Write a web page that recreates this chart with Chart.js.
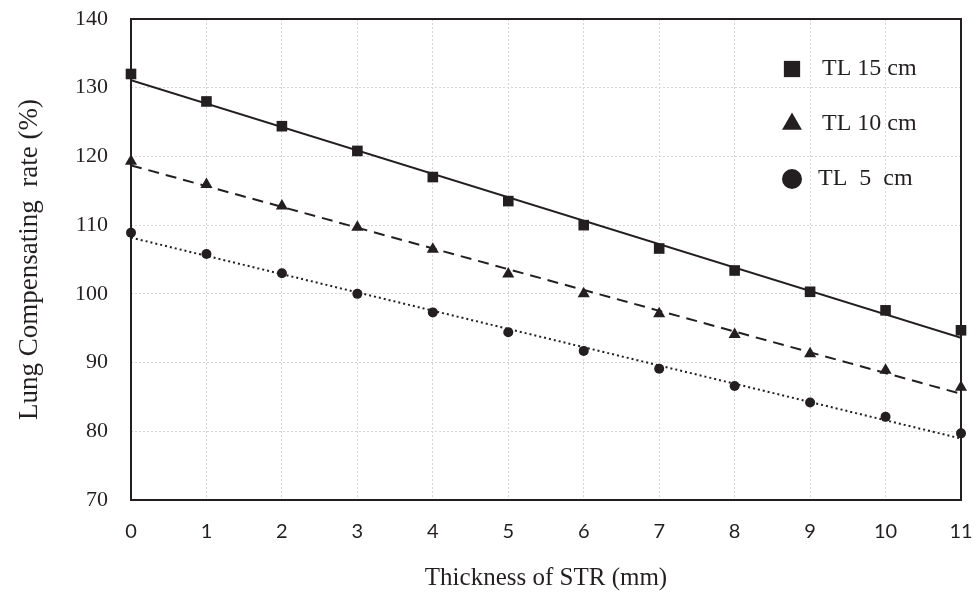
<!DOCTYPE html>
<html>
<head>
<meta charset="utf-8">
<script src="https://cdn.jsdelivr.net/npm/chart.js@4/dist/chart.umd.min.js"></script>
<style>
  html, body { margin: 0; padding: 0; background: #fff; }
</style>
</head>
<body>
<canvas id="chart" width="976" height="594"></canvas>
<script>
// data
const thickness = [0, 1, 2, 3, 4, 5, 6, 7, 8, 9, 10, 11];
const seriesNames = ['TL 15 cm', 'TL 10 cm', 'TL  5  cm'];
const tl15 = [132.0, 128.0, 124.4, 120.8, 117.0, 113.5, 110.0, 106.6, 103.4, 100.3, 97.6, 94.7];
const tl10 = [119.3, 115.9, 112.8, 109.7, 106.5, 102.9, 100.0, 97.1, 94.1, 91.3, 88.9, 86.4];
const tl5 = [108.9, 105.8, 103.0, 100.0, 97.3, 94.4, 91.7, 89.1, 86.6, 84.2, 82.1, 79.7];
const yTicks = [70, 80, 90, 100, 110, 120, 130, 140];
const xTicks = thickness;

const ink = '#231f20';
const serif = '"Liberation Serif", "Times New Roman", serif';

// pair x values with a series
function toPoints(ys) {
    return thickness.map((x, i) => ({ x: x, y: ys[i] }));
}

// least squares trend line (like the spreadsheet's linear trendline)
function linearFit(ys) {
    const n = thickness.length;
    const mx = thickness.reduce((a, b) => a + b, 0) / n;
    const my = ys.reduce((a, b) => a + b, 0) / n;
    let sxy = 0, sxx = 0;
    for (let i = 0; i < n; i++) {
        sxy += (thickness[i] - mx) * (ys[i] - my);
        sxx += (thickness[i] - mx) * (thickness[i] - mx);
    }
    const slope = sxy / sxx;
    const first = thickness[0], last = thickness[n - 1];
    return [
        { x: first, y: my + slope * (first - mx) },
        { x: last, y: my + slope * (last - mx) }
    ];
}

const series = [tl15, tl10, tl5];
const markers = [
    { style: 'rect', radius: 7.5, legendRadius: 11.5 },
    { style: 'triangle', radius: 7, legendRadius: 11.5 },
    { style: 'circle', radius: 5, legendRadius: 10 }
];
const trendDash = [[], [11, 7], [2, 3]];

const datasets = [];
series.forEach((ys, i) => {
    datasets.push({
        label: seriesNames[i],
        data: toPoints(ys),
        showLine: false,
        clip: false,
        pointStyle: markers[i].style,
        pointRadius: markers[i].radius,
        backgroundColor: ink,
        borderColor: ink,
        borderWidth: 0
    });
});
series.forEach((ys, i) => {
    datasets.push({
        label: seriesNames[i] + ' trend',
        data: linearFit(ys),
        showLine: true,
        pointRadius: 0,
        borderColor: ink,
        borderWidth: 2,
        borderDash: trendDash[i]
    });
});

// black frame round the plot area
const framePlugin = {
    id: 'frame',
    beforeDatasetsDraw(chart) {
        const { ctx, chartArea: a } = chart;
        ctx.save();
        ctx.strokeStyle = ink;
        ctx.lineWidth = 2;
        ctx.strokeRect(a.left, a.top, a.right - a.left, a.bottom - a.top);
        ctx.restore();
    }
};

// legend drawn inside the plot, top right
const legendPlugin = {
    id: 'insideLegend',
    afterDraw(chart) {
        const { ctx, chartArea: a } = chart;
        ctx.save();
        ctx.font = '24px ' + serif;
        ctx.textBaseline = 'middle';
        ctx.textAlign = 'left';
        seriesNames.forEach((name, i) => {
            const y = a.top + 50 + i * 55;
            const x = a.right - 169;
            ctx.fillStyle = ink;
            Chart.helpers.drawPoint(ctx, {
                pointStyle: markers[i].style,
                radius: markers[i].legendRadius,
                rotation: 0,
                borderWidth: 0
            }, x, y);
            ctx.fillText(name, x + 30 - (i === 2 ? 4 : 0), y);
        });
        ctx.restore();
    }
};

new Chart(document.getElementById('chart'), {
    type: 'scatter',
    data: { datasets: datasets },
    options: {
        responsive: false,
        animation: false,
        layout: { padding: { left: 0, right: 15, top: 19, bottom: 0 } },
        plugins: {
            legend: { display: false },
            tooltip: { enabled: false }
        },
        scales: {
            x: {
                type: 'linear',
                min: 0,
                max: 11,
                afterBuildTicks: s => { s.ticks = xTicks.map(v => ({ value: v })); },
                afterFit: s => { s.height = 94; s.paddingLeft = 0; s.paddingRight = 0; },
                grid: { color: '#d4d4d4', lineWidth: 1, drawTicks: false },
                border: { display: false, dash: [2, 2] },
                ticks: {
                    color: ink,
                    padding: 20,
                    font: { family: 'Lato, "Open Sans", sans-serif', size: 20 }
                },
                title: {
                    display: true,
                    text: 'Thickness of STR (mm)',
                    color: ink,
                    padding: { top: 0, bottom: 1 },
                    font: { family: serif, size: 25 }
                }
            },
            y: {
                min: 70,
                max: 140,
                afterBuildTicks: s => { s.ticks = yTicks.map(v => ({ value: v })); },
                afterFit: s => { s.width = 131; s.paddingTop = 0; s.paddingBottom = 0; },
                grid: { color: '#d4d4d4', lineWidth: 1, drawTicks: false },
                border: { display: false, dash: [2, 2] },
                ticks: {
                    color: ink,
                    padding: 23,
                    font: { family: serif, size: 22 }
                },
                title: {
                    display: true,
                    text: 'Lung Compensating  rate (%)',
                    color: ink,
                    padding: { top: 14, bottom: 0 },
                    font: { family: serif, size: 27 }
                }
            }
        }
    },
    plugins: [framePlugin, legendPlugin]
});
</script>
</body>
</html>
